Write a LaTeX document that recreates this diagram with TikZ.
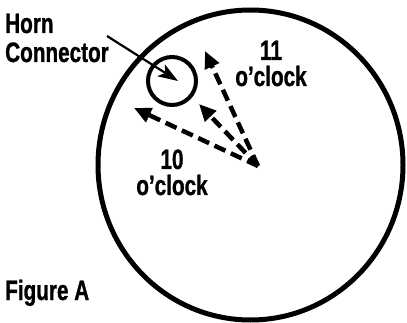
\documentclass[tikz,border=0pt]{standalone}
\usepackage{fontspec}
\newfontfamily\cond{Liberation Sans Bold}[FakeStretch=0.74,FakeBold=1]
\usetikzlibrary{arrows.meta}
\begin{document}
\begin{tikzpicture}[x=1pt,y=-1pt,
  lbl/.style={font=\cond\fontsize{28}{24}\selectfont, inner sep=0pt, align=center},
  dasharrow/.style={line width=4.5pt, dash pattern=on 12pt off 6pt, -{Triangle[length=17pt,width=15pt]}},
  pointer/.style={line width=2.2pt, -{Stealth[length=20pt,width=14pt,inset=5pt]}}]
\useasboundingbox (0,0) rectangle (407,323);
% big circle
\draw[line width=5pt] (250.5,165) ellipse [x radius=152.5, y radius=155];
% horn connector circle
\node[draw, circle, line width=4pt, minimum size=48pt, inner sep=0pt] (horn) at (172,81) {};
% labels (base anchor = baseline of last line)
\node[lbl, anchor=base west, align=left] (hc) at (5,62) {Horn\\[5pt]Connector};
\node[lbl, anchor=base] (eleven) at (271,86) {11\\[2pt]o’clock};
\node[lbl, anchor=base] (ten) at (172,195) {10\\[2pt]o’clock};
\node[lbl, anchor=base west] (fig) at (5,300) {Figure A};
% pointer
\coordinate (hcend) at (107,36);
\coordinate (hctip) at (178,81);
\draw[pointer] (hcend) -- (hctip);
% dashed arrows
\coordinate (o) at (258,166);
\coordinate (t11) at (205,51);
\coordinate (tmid) at (199,104);
\coordinate (t10) at (134,108);
\draw[dasharrow] (o) -- (t11);
\draw[dasharrow] (o) -- (tmid);
\draw[dasharrow] (o) -- (t10);
\end{tikzpicture}
\end{document}
